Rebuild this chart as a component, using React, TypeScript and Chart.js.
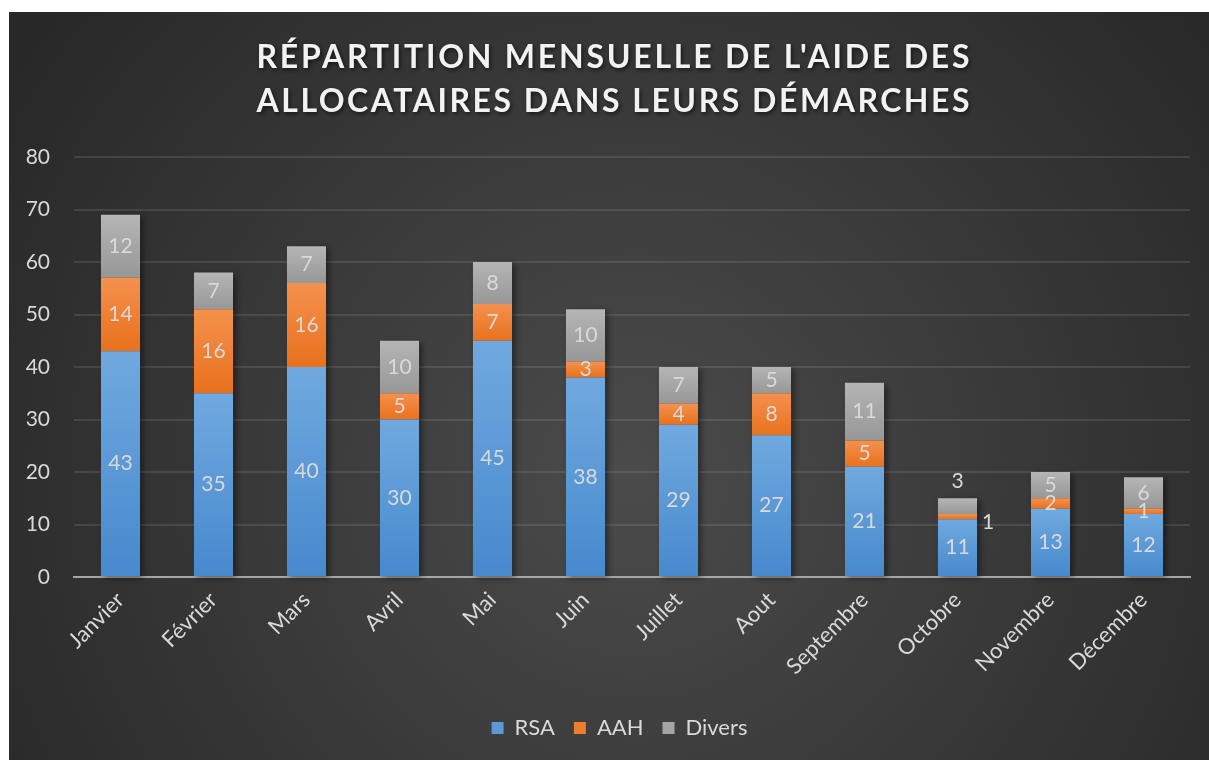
import React, { useEffect, useRef } from "react";
import { Chart, registerables } from "chart.js";

Chart.register(...registerables);

const months = ["Janvier", "Février", "Mars", "Avril", "Mai", "Juin", "Juillet", "Aout", "Septembre", "Octobre", "Novembre", "Décembre"];
const rsa = [43, 35, 40, 30, 45, 38, 29, 27, 21, 11, 13, 12];
const aah = [14, 16, 16, 5, 7, 3, 4, 8, 5, 1, 2, 1];
const divers = [12, 7, 7, 10, 8, 10, 7, 5, 11, 3, 5, 6];
const seriesNames = ["RSA", "AAH", "Divers"];
const titleLines = ["RÉPARTITION MENSUELLE DE L'AIDE DES", "ALLOCATAIRES DANS LEURS DÉMARCHES"];
const yTicksMax = 80;
const yTicksStep = 10;
// labels that Excel placed outside their (too small) segment
const outsideLabels = [
  { month: "Octobre", series: "Divers", where: "top" },
  { month: "Octobre", series: "AAH", where: "right" },
];

const FONT = "Lato, 'Open Sans', sans-serif";
const TEXT = "#d9d9d9";
const solid = ["#5b9bd5", "#ed7d31", "#a5a5a5"];
const gradTop = ["#70a9df", "#f4914e", "#b5b5b5"];
const gradBottom = ["#4689cd", "#e8711c", "#979797"];

const allSeries = [rsa, aah, divers];

export default function App() {
  const ref = useRef<HTMLCanvasElement | null>(null);
  useEffect(() => {
    const canvas = ref.current;
    if (!canvas) return;

    const segColor = (di: number) => (c: any) => {
      const chart = c.chart;
      const ys = chart.scales && chart.scales.y;
      if (!chart.chartArea || !ys || c.type !== "data") return solid[di];
      const i = c.dataIndex;
      let start = 0;
      for (let k = 0; k < di; k++) start += allSeries[k][i];
      const end = start + allSeries[di][i];
      const y0 = ys.getPixelForValue(end);
      const y1 = ys.getPixelForValue(start);
      if (!isFinite(y0) || !isFinite(y1) || y0 === y1) return solid[di];
      const g = chart.ctx.createLinearGradient(0, y0, 0, y1);
      g.addColorStop(0, gradTop[di]);
      g.addColorStop(1, gradBottom[di]);
      return g;
    };

    const bgPlugin = {
      id: "bg",
      afterLayout(chart: any) {
        if (chart.legend) {
          chart.legend.left += 20;
          chart.legend.right += 20;
        }
      },
      beforeDraw(chart: any) {
        const { ctx, width, height } = chart;
        ctx.save();
        const g = ctx.createRadialGradient(width * 0.52, height * 0.62, 0, width * 0.52, height * 0.62, width * 0.62);
        g.addColorStop(0, "#4b4b4b");
        g.addColorStop(1, "#282828");
        ctx.fillStyle = g;
        ctx.fillRect(0, 0, width, height);
        // title
        ctx.font = `bold 32px ${FONT}`;
        ctx.textAlign = "center";
        ctx.textBaseline = "alphabetic";
        ctx.fillStyle = "#f2f2f2";
        ctx.shadowColor = "rgba(0,0,0,0.6)";
        ctx.shadowBlur = 4;
        ctx.shadowOffsetX = 1.5;
        ctx.shadowOffsetY = 2;
        const baselines = [56, 100];
        titleLines.forEach((line, li) => {
          (ctx as any).letterSpacing = "0px";
          const w = ctx.measureText(line).width;
          const ls = (713 - w) / Math.max(1, line.length - 1);
          (ctx as any).letterSpacing = `${ls}px`;
          ctx.fillText(line, 604 + ls / 2, baselines[li]);
        });
        (ctx as any).letterSpacing = "0px";
        ctx.restore();
      },
      beforeDatasetsDraw(chart: any) {
        const { ctx } = chart;
        const metaTop = chart.getDatasetMeta(allSeries.length - 1);
        const metaBase = chart.getDatasetMeta(0);
        ctx.save();
        ctx.shadowColor = "rgba(0,0,0,0.45)";
        ctx.shadowBlur = 6;
        ctx.shadowOffsetX = 3;
        ctx.shadowOffsetY = 2;
        ctx.fillStyle = "#3a3a3a";
        metaTop.data.forEach((el: any, i: number) => {
          const base = metaBase.data[i];
          const w = el.width;
          ctx.fillRect(el.x - w / 2, el.y, w, base.base - el.y);
        });
        ctx.restore();
      },
      afterDatasetsDraw(chart: any) {
        const { ctx } = chart;
        ctx.save();
        ctx.font = `21px ${FONT}`;
        ctx.fillStyle = TEXT;
        ctx.textBaseline = "middle";
        allSeries.forEach((vals, di) => {
          const meta = chart.getDatasetMeta(di);
          meta.data.forEach((el: any, i: number) => {
            const v = vals[i];
            const o = outsideLabels.find((x) => x.month === months[i] && x.series === seriesNames[di]);
            let x = el.x;
            let y = (el.y + el.base) / 2;
            ctx.textAlign = "center";
            if (o && o.where === "top") {
              y = el.y - 17;
            } else if (o && o.where === "right") {
              ctx.textAlign = "left";
              x = el.x + el.width / 2 + 5;
              y = y + 6;
            }
            ctx.fillText(String(v), x, y);
          });
        });
        ctx.restore();
      },
    };

    const chart = new Chart(canvas, {
      type: "bar",
      data: {
        labels: months,
        datasets: allSeries.map((vals, di) => ({
          label: seriesNames[di],
          data: vals,
          backgroundColor: segColor(di),
          borderWidth: 0,
          categoryPercentage: 1,
          barPercentage: 0.42,
        })),
      },
      options: {
        animation: false,
        responsive: false,
        maintainAspectRatio: false,
        layout: { padding: { top: 145, right: 19, left: 0, bottom: 11 } },
        plugins: {
          title: { display: false },
          tooltip: { enabled: false },
          legend: {
            position: "bottom",
            labels: {
              font: { family: FONT, size: 22 },
              color: TEXT,
              boxWidth: 12,
              boxHeight: 12,
              padding: 19,
              generateLabels: (chart: any) =>
                chart.data.datasets.map((ds: any, i: number) => ({
                  text: ds.label,
                  fillStyle: solid[i],
                  strokeStyle: solid[i],
                  lineWidth: 0,
                  datasetIndex: i,
                  fontColor: TEXT,
                  hidden: false,
                })),
            },
          },
        },
        scales: {
          x: {
            stacked: true,
            grid: { display: false, drawTicks: false },
            border: { display: true, color: "#a6a6a6", width: 2 },
            ticks: {
              font: { family: FONT, size: 22 },
              color: TEXT,
              minRotation: 45,
              maxRotation: 45,
              padding: 10,
              autoSkip: false,
            },
            afterFit: (s: any) => {
              s.height = 121;
            },
          },
          y: {
            stacked: true,
            min: 0,
            max: yTicksMax,
            grid: { color: "rgba(255,255,255,0.1)", lineWidth: 2, drawTicks: false },
            border: { display: false },
            ticks: {
              stepSize: yTicksStep,
              font: { family: FONT, size: 21 },
              color: TEXT,
              padding: 24,
            },
            afterFit: (s: any) => {
              s.width = 65;
            },
          },
        },
      },
      plugins: [bgPlugin],
    });
    return () => chart.destroy();
  }, []);

  return (
    <div style={{ position: "absolute", left: 9, top: 12, width: 1200, height: 748 }}>
      <canvas ref={ref} width={1200} height={748} style={{ display: "block" }} />
    </div>
  );
}
